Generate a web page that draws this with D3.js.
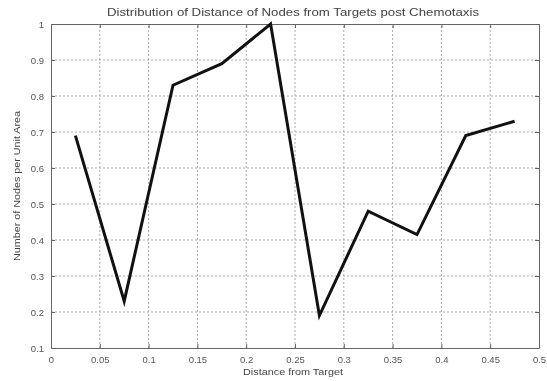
<!DOCTYPE html>
<html>
<head>
<meta charset="utf-8">
<script src="https://cdn.jsdelivr.net/npm/d3@7"></script>
<style>
  body { margin: 0; background: #fff; }
  svg { display: block; filter: blur(0.5px); }
  text { font-family: "Liberation Sans", Arial, sans-serif; fill: #444; }
</style>
</head>
<body>
<div id="chart"></div>
<script>
var w = 547;
var h = 381;

// data
var distances = [0.025, 0.075, 0.125, 0.175, 0.225, 0.275, 0.325, 0.375, 0.425, 0.475];
var nodeDensity = [0.69, 0.23, 0.83, 0.89, 1.0, 0.19, 0.48, 0.415, 0.69, 0.73];
var xTicks = [0, 0.05, 0.1, 0.15, 0.2, 0.25, 0.3, 0.35, 0.4, 0.45, 0.5];
var yTicks = [0.1, 0.2, 0.3, 0.4, 0.5, 0.6, 0.7, 0.8, 0.9, 1];

var margin = {left: 51, right: 8, top: 24, bottom: 33};

var x = d3.scaleLinear()
  .domain([0, 0.5])
  .range([margin.left, w - margin.right]);

var y = d3.scaleLinear()
  .domain([0.1, 1])
  .range([h - margin.bottom, margin.top]);

var svg = d3.select("#chart")
  .append("svg")
  .attr("width", w)
  .attr("height", h);

// grid
svg.append("g")
  .selectAll("line")
  .data(xTicks.slice(1, -1))
  .enter()
  .append("line")
  .attr("x1", d => x(d)).attr("x2", d => x(d))
  .attr("y1", y(0.1)).attr("y2", y(1))
  .attr("stroke", "#aaa")
  .attr("stroke-width", 1)
  .attr("stroke-dasharray", "2,2");

svg.append("g")
  .selectAll("line")
  .data(yTicks.slice(1, -1))
  .enter()
  .append("line")
  .attr("x1", x(0)).attr("x2", x(0.5))
  .attr("y1", d => y(d)).attr("y2", d => y(d))
  .attr("stroke", "#aaa")
  .attr("stroke-width", 1)
  .attr("stroke-dasharray", "2,2");

// axes (ticks inward, matlab style)
var fmt = d => String(d);

svg.append("g")
  .attr("class", "xaxis")
  .attr("transform", "translate(0," + y(0.1) + ")")
  .call(d3.axisBottom(x).tickValues(xTicks).tickFormat(fmt).tickSizeInner(-4).tickSizeOuter(0).tickPadding(8));

svg.append("g")
  .attr("transform", "translate(0," + y(1) + ")")
  .call(d3.axisTop(x).tickValues(xTicks).tickFormat("").tickSizeInner(-4).tickSizeOuter(0));

svg.append("g")
  .attr("class", "yaxis")
  .attr("transform", "translate(" + x(0) + ",0)")
  .call(d3.axisLeft(y).tickValues(yTicks).tickFormat(fmt).tickSizeInner(-4).tickSizeOuter(0).tickPadding(7));

svg.append("g")
  .attr("transform", "translate(" + x(0.5) + ",0)")
  .call(d3.axisRight(y).tickValues(yTicks).tickFormat("").tickSizeInner(-4).tickSizeOuter(0));

svg.selectAll(".domain, .tick line")
  .attr("stroke", "#666");

svg.selectAll(".tick text")
  .style("font-size", "9.5px")
  .style("fill", "#555");

svg.selectAll(".xaxis .tick text")
  .attr("dy", "0.71em");

// line
var line = d3.line()
  .x((d, i) => x(distances[i]))
  .y(d => y(d));

svg.append("path")
  .datum(nodeDensity)
  .attr("d", line)
  .attr("fill", "none")
  .attr("stroke", "#111")
  .attr("stroke-width", 3)
  .attr("stroke-linejoin", "miter");

// labels
svg.append("text")
  .attr("x", 293)
  .attr("y", 16)
  .attr("text-anchor", "middle")
  .attr("textLength", 372)
  .attr("lengthAdjust", "spacingAndGlyphs")
  .style("font-size", "11px")
  .text("Distribution of Distance of Nodes from Targets post Chemotaxis");

svg.append("text")
  .attr("x", 293)
  .attr("y", 375)
  .attr("text-anchor", "middle")
  .attr("textLength", 100)
  .attr("lengthAdjust", "spacingAndGlyphs")
  .style("font-size", "9px")
  .text("Distance from Target");

svg.append("text")
  .attr("transform", "translate(20,186) rotate(-90)")
  .attr("text-anchor", "middle")
  .attr("textLength", 150)
  .attr("lengthAdjust", "spacingAndGlyphs")
  .style("font-size", "9px")
  .text("Number of Nodes per Unit Area");
</script>
</body>
</html>
